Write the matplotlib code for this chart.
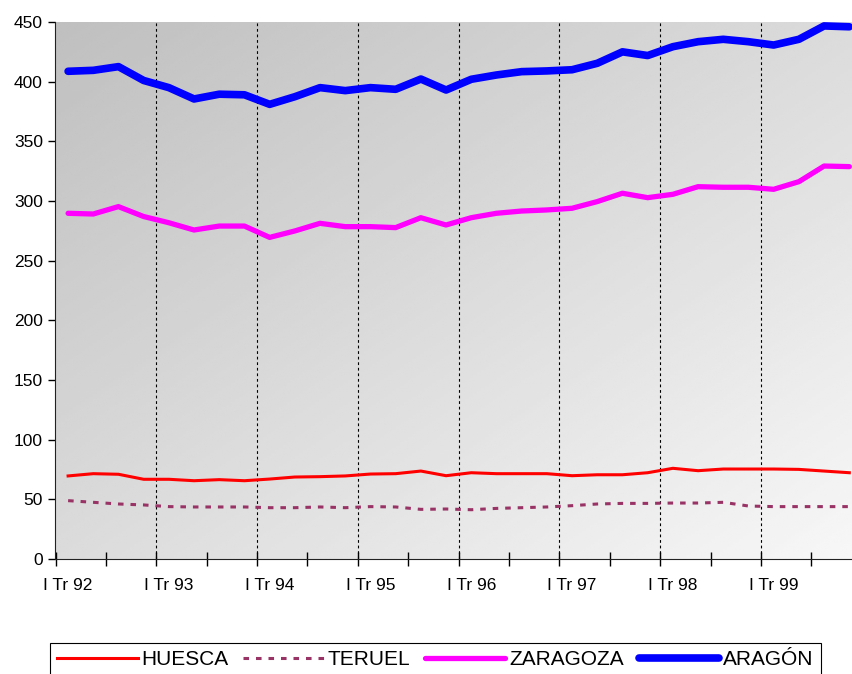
import numpy as np
import matplotlib.pyplot as plt
from matplotlib.ticker import FixedLocator, NullFormatter

plt.rcParams['font.family'] = ['Liberation Sans', 'DejaVu Sans']
plt.rcParams['lines.scale_dashes'] = False

# quarterly data, I Tr 92 .. IV Tr 99
quarters = [f"{q} Tr {y}" for y in range(92, 100) for q in ("I", "II", "III", "IV")]
tick_labels = [f"I Tr {y}" for y in range(92, 100)]

huesca = [69.6, 71.5, 71.0, 66.8, 66.8, 65.6, 66.5, 65.6,
          67.0, 68.7, 69.0, 69.6, 71.2, 71.5, 73.7, 69.8,
          72.3, 71.5, 71.5, 71.5, 69.8, 70.6, 70.6, 72.3,
          76.0, 74.0, 75.4, 75.4, 75.4, 75.1, 73.7, 72.3]
teruel = [48.9, 47.5, 46.1, 45.3, 43.9, 43.6, 43.6, 43.6,
          43.0, 43.0, 43.6, 43.0, 43.9, 43.6, 41.6, 41.9,
          41.3, 42.4, 43.0, 43.6, 44.7, 46.1, 46.6, 46.6,
          46.9, 46.9, 47.5, 44.4, 43.9, 43.9, 43.9, 43.9]
zaragoza = [289.7, 289.1, 295.3, 287.0, 281.8, 275.7, 279.0, 279.0,
            269.5, 274.9, 281.3, 278.5, 278.5, 277.7, 286.0, 279.9,
            286.0, 289.7, 291.6, 292.5, 293.9, 299.5, 306.5, 302.8,
            305.6, 312.0, 311.5, 311.5, 309.8, 316.2, 329.3, 328.8]
aragon = [408.7, 409.5, 412.6, 401.0, 395.0, 385.5, 389.5, 389.0,
          381.0, 387.4, 395.0, 392.5, 395.0, 393.6, 402.2, 393.0,
          402.0, 405.6, 408.4, 409.0, 410.0, 415.4, 425.0, 421.9,
          429.3, 433.5, 435.5, 433.5, 430.7, 435.5, 446.7, 446.0]

x = np.arange(len(quarters))

fig = plt.figure(figsize=(8.53, 6.74), dpi=100)
ax = fig.add_axes([55.5 / 853, 1 - 559 / 674, 806.4 / 853, 537 / 674])

# diagonal grey gradient background
gx, gy = np.meshgrid(np.linspace(0, 1, 200), np.linspace(1, 0, 200))
t = (gx + (1 - gy)) / 2
ax.imshow(0.75 + 0.22 * t, cmap='gray', vmin=0, vmax=1, extent=(0, 1, 0, 1),
          transform=ax.transAxes, aspect='auto', zorder=0, interpolation='bilinear')

for xv in np.arange(3.5, 31, 4):
    ax.axvline(xv, color='black', linestyle=(0, (2, 2)), linewidth=0.8, zorder=1)

ax.plot(x, huesca, color='#ff0000', linewidth=2.2, solid_joinstyle='round',
        label='HUESCA', zorder=3)
ax.plot(x, teruel, color='#993366', linewidth=2.2, linestyle=(0, (4, 5)),
        label='TERUEL', zorder=3)
ax.plot(x, zaragoza, color='#ff00ff', linewidth=3.8, solid_capstyle='round',
        solid_joinstyle='round', label='ZARAGOZA', zorder=3)
ax.plot(x, aragon, color='#0000ff', linewidth=5.5, solid_capstyle='round',
        solid_joinstyle='round', label='ARAGÓN', zorder=3)

ax.set_xlim(-0.5, 31.5)
ax.set_ylim(0, 450)
ax.set_yticks(np.arange(0, 451, 50))
ax.tick_params(axis='y', direction='out', length=5, labelsize=12.5, pad=4, width=1)

ax.set_xticks(np.arange(0, 32, 4))
ax.set_xticklabels(tick_labels)
ax.tick_params(axis='x', which='major', length=0, labelsize=12.5, pad=14)
ax.xaxis.set_minor_locator(FixedLocator(np.arange(-0.5, 32, 2)))
ax.xaxis.set_minor_formatter(NullFormatter())
ax.tick_params(axis='x', which='minor', direction='inout', length=10, width=1)

for s in ('top', 'right'):
    ax.spines[s].set_visible(False)
ax.spines['left'].set_color('#222222')
ax.spines['bottom'].set_color('#222222')

leg = fig.legend(loc='upper left', bbox_to_anchor=(50 / 853, 1 - 643 / 674), ncol=4,
                 frameon=True, fancybox=False, edgecolor='black', framealpha=1,
                 borderaxespad=0, handlelength=3.85, handletextpad=0.2,
                 columnspacing=0.7, borderpad=0.35,
                 prop={'family': ['Liberation Sans', 'DejaVu Sans'], 'size': 15})
leg.get_frame().set_linewidth(0.8)

fig.savefig('out.png', dpi=100)
